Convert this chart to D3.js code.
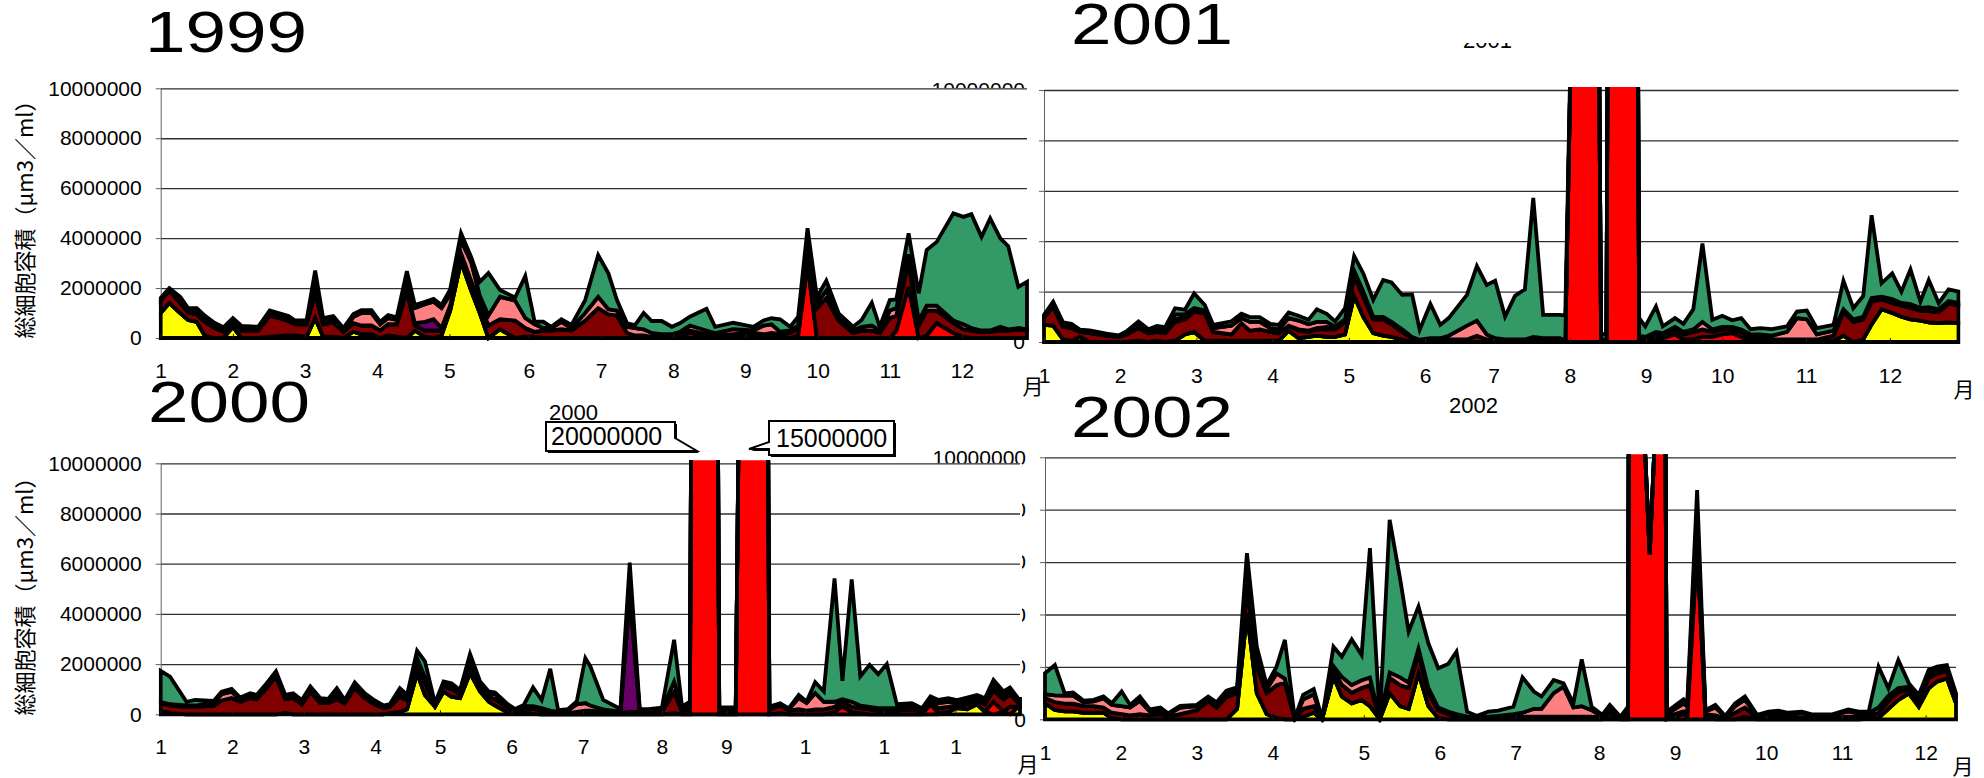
<!DOCTYPE html>
<html>
<head>
<meta charset="utf-8">
<script src="https://cdn.jsdelivr.net/npm/d3@7"></script>
<style>
  body { margin: 0; background: #fff; }
  text { font-family: "Liberation Sans", Arial, sans-serif; }
</style>
</head>
<body>
<script>
// values are in millions of um3/ml, x is the sample position (0..120) along each year

// ---- 1999
var x1999 = [0,1.2,2.7,3.8,5,6.1,7.5,8.7,10,11.2, 13.5,15.1,17.7,18.6,20.2,21.4,22.5,23.9,25.3,26.7,
  27.8,29.2,30.4,31.5,32.7,34.1,35.2,36.6,37.8,38.9, 40.1,41.6,43,44.2,45.4,47,49.1,50.5,51.8,53,
  54.1,55.5,56.9,58.8,60.6,62,63.2,64.6,65.7,66.9, 68,69.4,70.8,71.9,73.3,75.6,76.8,79.3,82.1,83.5,
  84.6,85.8,87.2,88.3,89.6,90.9,92.2,93.9,95.9,97.1, 98.5,99.6,101,101.9,103.6,105,106.1,107.5,109.8,111.2,
  112.3,113.7,114.9,116.3,117.4,118.8,120];
var yellow1999 = [1.0,1.4,1.0,0.72,0.65,0.1,0,0,0.45,0, 0,0.05,0.1,0.1,0.05,0.8,0.05,0.05,0,0.25,
  0.15,0.15,0,0.1,0.05,0,0.3,0.05,0,0.1, 1.1,3.05,1.9,1.0,0,0.35,0,0.05,0.05,0,
  0,0,0,0,0,0,0,0,0,0, 0,0,0,0,0,0,0,0,0,0, 0,0,0,0,0,0,0,0,0,0, 0,0,0,0,0,0,0,0,0,0, 0,0,0,0,0,0,0];
var red1999 = [0,0,0,0,0,0,0,0,0,0, 0,0,0,0,0,0,0,0,0,0, 0,0,0,0,0,0,0,0,0,0, 0,0,0,0,0,0,0,0,0,0,
  0,0,0,0,0,0,0,0,0,0, 0,0,0,0.05,0.2,0.1,0.05,0.05,0.1,0.05, 0.05,0.05,0,0.1,2.95,0,0,0,0,0,
  0,0,0,0.3,2.05,0,0.1,0.6,0.2,0.05, 0,0,0,0,0,0,0];
var maroon1999 = [0.5,0.5,0.4,0.3,0.3,0.55,0.4,0.25,0.2,0.3, 0.3,0.85,0.58,0.45,0.5,1.0,0.5,0.58,0.25,0.35,
  0.35,0.35,0.3,0.45,0.5,1.9,0.2,0.25,0.3,0.2, 0.2,0.35,0.4,0.4,0.5,0.4,0.7,0.35,0.2,0.3,
  0.3,0.35,0.3,0.7,1.2,0.95,0.9,0.2,0.1,0.1, 0.05,0.05,0.05,0.1,0.1,0.05,0.05,0.1,0.1,0.1,
  0.15,0.1,0.2,0.3,0.5,1.2,1.6,0.7,0.2,0.3, 0.3,0.2,0.8,0.6,1.0,0.5,1.0,0.5,0.4,0.3,
  0.3,0.25,0.25,0.3,0.3,0.35,0.3];
var purple1999 = [0,0,0,0,0,0,0,0,0,0, 0,0,0,0,0,0,0,0,0,0, 0,0,0,0,0,0,0.1,0.35,0.45,0.1,
  0,0,0,0,0,0,0,0,0,0, 0,0,0,0,0,0,0,0,0,0, 0,0,0,0,0,0,0,0,0,0, 0,0,0,0,0,0,0,0,0,0,
  0,0,0,0,0,0,0,0,0,0, 0,0,0,0.1,0,0,0];
var pink1999 = [0.05,0.05,0.1,0.08,0.1,0.1,0.1,0.08,0.05,0.08, 0.05,0.1,0.1,0.05,0.05,0.4,0.1,0.1,0.05,0.25,
  0.5,0.5,0.25,0.25,0.18,0.3,0.6,0.7,0.7,0.8, 0.45,0.5,0.75,0.3,0.4,0.9,0.8,0.4,0.3,0.1,
  0.1,0.3,0.1,0.3,0.45,0.2,0.2,0.25,0.3,0.25, 0.15,0.1,0.1,0.1,0.2,0.15,0.1,0.2,0.1,0.35,
  0.35,0.1,0.1,0.1,0.45,0.2,0.3,0.1,0.1,0.15, 0.2,0.1,0.3,0.3,0.3,0.2,0.2,0.2,0.1,0.2,
  0.1,0.05,0.05,0.05,0.05,0.05,0.05];
var green1999 = [0.05,0.05,0.15,0.1,0.15,0.15,0.1,0.1,0.1,0.1, 0.1,0.1,0.1,0.1,0.1,0.5,0.15,0.15,0.1,0.11,
  0.12,0.12,0.1,0.12,0.1,0.48,0.12,0.1,0.12,0.12, 0.2,0.3,0.2,0.55,1.7,0.27,0.12,1.68,0.1,0.25,
  0.05,0.1,0.12,0.52,1.67,1.45,0.42,0.14,0.12,0.65, 0.48,0.53,0.3,0.34,0.35,0.87,0.25,0.26,0.15,0.2,
  0.24,0.5,0.15,0.35,0.5,0.23,0.39,0.19,0.15,0.27, 0.91,0.15,0.42,0.35,0.84,1.09,2.22,2.55,4.29,4.3,
  4.56,3.75,4.49,3.54,3.33,1.65,1.9];

// ---- 2001
var x2001 = [0,1.2,2.5,3.6,4.7,6,8.2,9.8,10.8,12.4, 13.7,14.8,15.9,17.2,18.5,19.7,21.1,22.2,24.6,25.9,
  27,28.3,29.7,30.8,32.1,33.4,34.7,35.8,37.1,38.2, 39.5,40.7,41.9,43.2,44.5,45.6,47,48.3,49.3,50.7,
  52,53.1,55.5,56.8,58.1,59.2,60.5,61.8,63.1,64.2, 65.5,67.7,68.4,69.8,72.6,73.1,73.8,74.1,77.8,78.1,
  78.9,80.3,81.2,82.8,83.9,85.2,86.4,87.7,89,90.3, 91.5,92.7,94,95.5,97.5,98.8,100.1,101.4,103.6,104.9,
  106.2,107.5,108.6,109.9,111.3,112.5,113.7,115,116.1,117.4, 118.7,120];
var yellow2001 = [0.68,0.65,0.1,0.05,0.2,0,0,0,0,0.05, 0,0.05,0,0.05,0.3,0.4,0.05,0.05,0.05,0.05,
  0.05,0.05,0.05,0.05,0.45,0.15,0.2,0.25,0.2,0.2, 0.3,1.83,1.0,0.35,0.25,0.2,0.1,0,0,0,
  0,0,0,0,0,0,0,0,0,0, 0,0,0,0,0,0,0,0,0,0, 0,0,0,0,0,0,0,0,0,0, 0,0,0,0,0,0,0,0,0.05,0.25,
  0,0.1,0.7,1.3,1.15,1.0,0.9,0.85,0.78,0.75, 0.78,0.75];
var red2001 = [0,0,0,0,0,0,0,0,0,0, 0,0,0,0,0,0,0,0,0,0, 0,0,0,0,0,0,0,0,0,0, 0,0,0,0,0,0,0,0,0,0,
  0,0,0,0,0,0,0,0,0,0, 0,0,0,22,22,0,0,22,22,0.1, 0.05,0.1,0.15,0.3,0.1,0.1,0.2,0.2,0.3,0.35,
  0.2,0.05,0.05,0,0,0,0,0,0,0, 0,0,0,0,0,0,0,0,0,0, 0,0];
var maroon2001 = [0.3,0.75,0.5,0.5,0.2,0.35,0.25,0.2,0.3,0.5, 0.35,0.35,0.35,0.75,0.6,0.8,1.1,0.35,0.25,0.7,
  0.4,0.45,0.35,0.3,0.2,0.3,0.2,0.25,0.3,0.3, 0.5,0.8,0.8,0.55,0.65,0.5,0.3,0.15,0.05,0.1,
  0.1,0.1,0.1,0.25,0.1,0.05,0.05,0.05,0.05,0.1, 0.1,0.1,0.05,0,0,0.1,0.1,0,0,0.1,
  0.1,0.2,0.1,0.2,0.2,0.3,0.3,0.2,0.2,0.15, 0.2,0.15,0.1,0.1,0.1,0.1,0.1,0.1,0.2,0.95,
  0.8,0.8,0.9,0.4,0.4,0.45,0.45,0.4,0.45,0.45, 0.75,0.7];
var purple2001 = [0,0,0,0,0,0,0,0,0,0, 0,0,0,0.1,0.1,0.05,0,0,0,0, 0,0,0,0,0,0.05,0.05,0.05,0.1,0,
  0,0,0,0,0,0,0,0,0,0, 0,0,0,0,0,0,0,0,0,0, 0,0,0,0,0,0,0,0,0,0, 0,0,0,0,0,0,0,0,0,0,
  0,0,0,0,0,0,0,0,0,0, 0,0,0,0,0,0,0,0,0,0, 0,0];
var pink2001 = [0.05,0.1,0.08,0.07,0.04,0.05,0.04,0.03,0.06,0.1, 0.1,0.15,0.15,0.2,0.1,0.1,0.1,0.15,0.35,0.2,
  0.35,0.3,0.15,0.15,0.3,0.35,0.25,0.25,0.2,0.1, 0.1,0.2,0.2,0.1,0.1,0.1,0.1,0.05,0.04,0.05,
  0.05,0.15,0.55,0.6,0.2,0.1,0.05,0.05,0.05,0.1, 0.05,0.05,0,0,0,0.2,0.2,0,0,0.05,
  0.05,0.1,0.1,0.1,0.1,0.1,0.3,0.1,0.1,0.1, 0.1,0.1,0.15,0.15,0.3,0.85,0.8,0.2,0.2,0.1,
  0.1,0.1,0.15,0.1,0.15,0.1,0.15,0.1,0.15,0.1, 0.1,0.1];
var green2001 = [0.05,0.1,0.1,0.1,0.05,0.06,0.04,0.03,0.06,0.17, 0.06,0.09,0.09,0.24,0.18,0.58,0.22,0.13,0.17,0.17,
  0.19,0.19,0.17,0.18,0.22,0.19,0.18,0.5,0.32,0.22, 0.44,0.58,0.72,0.67,1.46,1.56,1.37,1.69,0.4,1.36,
  0.53,0.7,1.22,2.16,1.96,2.28,0.91,1.73,1.99,5.52, 0.93,0.93,1.0,0,0,0,0,0,0,0.7,
  0.42,1.01,0.27,0.35,0.32,0.8,3.11,0.38,0.44,0.26, 0.45,0.21,0.25,0.26,0.22,0.26,0.35,0.25,0.23,1.13,
  0.44,0.83,3.28,0.53,1.02,0.45,1.38,0.25,1.08,0.24, 0.46,0.45];

// ---- 2000
var x2000 = [0,1.3,3.6,4.8,7.4,8.5,9.9,11.1,12.5,13.4, 14.8,16.1,17.4,18.5,19.7,20.9,22.3,23.4,24.6,25.7,
  27.1,28.5,29.9,31.1,32,33.4,34.4,35.8,36.9,38.3, 39.5,40.6,41.8,43.2,44.6,45.8,46.7,48.3,49.5,50.7,
  52,53.2,54.4,55.5,56.9,58.1,59.3,60,61.8,64.2, 65.5,66.9,68.1,70,71.7,72.8,73.9,74.3,77.6,78,
  80.3,81.2,84.6,85,86.5,87.7,89.1,90.2,91.4,92.6, 94.1,95.2,96.5,97.7,99,100.2,101.4,102.8,104.9,106.3,
  107.5,108.6,110,111.2,112.6,114,115.1,116.3,117.7,118.6, 119.8,120];
var yellow2000 = [0.15,0.05,0,0,0,0,0,0,0,0, 0,0,0.05,0,0,0,0,0,0,0, 0,0,0,0,0.05,0.1,0.2,1.64,0.77,0.3,
  0.91,0.7,0.64,1.64,0.91,0.51,0.35,0.1,0.02,0.1, 0.02,0,0,0,0,0,0,0,0,0, 0,0,0,0,0,0,0,0,0,0,
  0,0,0,0,0,0,0,0,0,0, 0,0,0,0,0,0,0,0,0,0, 0,0,0.1,0.25,0.2,0.4,0.1,0,0.1,0, 0.3,0.3];
var red2000 = [0,0,0,0,0,0,0,0,0,0, 0,0,0,0,0,0,0,0,0,0, 0,0,0,0,0,0,0,0,0,0, 0,0,0,0,0,0,0,0,0,0,
  0,0,0,0,0,0,0,0,0,0, 0,0,0,0,0.05,0,0,25,25,0, 0,25,25,0,0.05,0,0,0,0,0,
  0.1,0.3,0.1,0.05,0,0,0,0,0,0, 0.4,0.05,0,0,0,0,0,0.5,0,0.3, 0,0];
var maroon2000 = [0.3,0.3,0.3,0.3,0.35,0.55,0.65,0.5,0.65,0.6, 1.05,1.5,0.55,0.65,0.4,0.9,0.45,0.45,0.6,0.45,
  1.05,0.65,0.4,0.25,0.25,0.6,0.35,0.4,0.5,0.05, 0.2,0.3,0.15,0.4,0.2,0.2,0.25,0.2,0.1,0.15,
  0.2,0.15,0.1,0.05,0.05,0.1,0.15,0.15,0.1,0.05, 0.1,0.1,0.1,0.1,0.85,0.1,0.2,0,0,0.1,
  0.1,0,0,0.2,0.3,0.15,0.2,0.15,0.2,0.2, 0.2,0.2,0.2,0.2,0.2,0.15,0.15,0.15,0.2,0.1,
  0.1,0.2,0.2,0.1,0.2,0.15,0.3,0.45,0.5,0.5, 0.15,0.15];
var purple2000 = [0,0,0,0,0,0,0,0,0,0, 0,0,0,0,0,0,0,0,0.2,0, 0,0,0,0,0,0,0,0,0,0, 0,0,0,0,0,0,0,0,0,0,
  0,0,0,0,0,0,0,0,0,0, 4.6,0,0,0,0,0,0,0,0,0, 0,0,0,0,0,0,0,0,0,0, 0,0,0,0,0,0,0,0,0,0,
  0,0,0,0,0,0,0,0,0,0, 0,0];
var pink2000 = [0.05,0.05,0.05,0.05,0.1,0.25,0.25,0.1,0.1,0.1, 0.1,0.1,0.1,0.1,0.1,0.1,0.1,0.08,0.1,0.06,
  0.1,0.1,0.08,0.05,0.05,0.2,0.1,0.2,0.2,0.05, 0.1,0.15,0.1,0.2,0.1,0.12,0.2,0.08,0.05,0.07,
  0.1,0.1,0.05,0.05,0.1,0.3,0.3,0.2,0.1,0.05, 0.4,0.05,0.05,0.1,0.4,0.1,0.15,0,0,0.1,
  0.1,0,0,0.05,0.05,0.05,0.45,0.3,0.65,0.3, 0.2,0.1,0.2,0.1,0.1,0.1,0.1,0.1,0.15,0.1,
  0.1,0.2,0.2,0.1,0.15,0.1,0.1,0.2,0.15,0.1, 0.1,0.1];
var green2000 = [1.23,1.1,0.15,0.22,0.08,0.1,0.11,0.07,0.09,0.07, 0.09,0.11,0.07,0.09,0.07,0.11,0.09,0.08,0.14,0.06,
  0.12,0.09,0.07,0.05,0.06,0.14,0.12,0.29,0.64,0.04, 0.1,0.09,0.08,0.16,0.1,0.08,0.07,0.06,0.04,0.05,
  0.75,0.32,1.66,0.07,0.06,0.11,1.79,1.56,0.37,0.11, 0.94,0.06,0.06,0.07,1.67,0.11,0.16,0,0,0.07,
  0.07,0,0,0.06,0.04,0.04,0.12,0.06,0.43,0.41, 4.91,0.73,4.87,1.16,1.67,1.35,1.75,0.15,0.09,0.04,
  0.11,0.12,0.14,0.12,0.12,0.12,0.14,0.22,0.16,0.17, 0.06,0.06];

// ---- 2002
var x2002 = [0,1.3,2.6,3.7,5.1,6.4,7.7,8.8,10.1,11.2, 12.5,13.8,15.2,16.2,17.8,20,21.5,22.6,23.9,25.3,
  26.6,27.9,29.2,30.5,31.6,32.9,34,35.4,36.5,38, 39.1,40.4,41.7,42.8,44.1,45.4,46.8,47.9,49.2,50.5,
  51.8,53.1,54.2,55.6,56.9,58.4,59.7,61.7,62.9,64.4, 65.4,67,68.3,69.6,70.7,72,73.4,74.4,75.8,76.8,
  77,78.6,79,79.65,80.3,80.6,81.5,81.9,84.1,84.6, 85.9,87,88.3,89.6,90.9,92.2,93.8,95.3,96.6,97.9,
  99.7,101,103.7,105.8,107.2,108.5,109.8,111.1,112.4,113.8, 115.1,116.4,117.5,118.8,120];
var yellow2002 = [0.61,0.36,0.3,0.3,0.25,0.25,0.25,0.05,0,0, 0,0,0,0,0,0,0,0,0,0.4,
  4.05,1.0,0.2,0.05,0,0,0.1,0.25,0,1.63, 0.87,0.61,0.74,0.5,0,0.99,0.5,0.4,1.76,0.5,
  0.05,0,0,0,0,0,0,0,0,0, 0,0,0,0,0,0,0,0,0,0, 0,0,0,0,0,0,0,0,0,0, 0,0,0,0,0,0,0,0,0,0,
  0,0,0,0,0,0.02,0.05,0.4,0.74,0.99, 0.48,1.18,1.44,1.56,0.61];
var red2002 = [0,0,0,0,0,0,0,0,0,0, 0,0,0,0,0,0,0,0,0,0, 0,0,0,0,0,0,0,0,0,0, 0,0,0,0,0,0,0,0,0,0,
  0,0,0,0,0,0,0,0,0,0, 0,0,0,0,0,0,0,0.05,0,0, 25,25,10.5,6.3,10.5,25,25,0,0.2,0.1,
  6.5,0.1,0,0,0,0.1,0,0,0,0, 0,0,0,0,0,0,0,0,0,0, 0,0,0,0,0];
var maroon2002 = [0.2,0.3,0.3,0.3,0.25,0.25,0.2,0.2,0.2,0.15, 0.2,0.15,0.2,0.1,0.2,0.35,0.7,0.45,0.85,0.6,
  1.0,1.0,0.8,1.25,1.4,0.02,0.3,0.25,0.02,0.25, 0.45,0.4,0.45,0.8,0.02,0.6,0.8,0.8,0.74,0.5,
  0.3,0.2,0.1,0.05,0.03,0.05,0.05,0.1,0.1,0.1, 0.1,0.1,0.1,0.1,0.1,0.1,0.05,0.2,0.05,0.1,
  0,0,0,0,0,0,0,0.1,0.1,0.2, 0.8,0.1,0.15,0.05,0.25,0.35,0.05,0.05,0.05,0.05,
  0.05,0.05,0.05,0.1,0.1,0.1,0.2,0.3,0.3,0.15, 0.25,0.4,0.3,0.3,0.2];
var purple2002 = [0,0,0,0,0,0,0,0,0,0, 0,0,0.1,0,0,0,0,0,0,0, 0,0,0,0,0,0,0,0,0,0, 0,0,0,0,0,0,0,0,0,0,
  0,0,0,0,0,0,0,0,0,0, 0,0,0,0,0,0,0,0,0,0, 0,0,0,0,0,0,0,0,0,0, 0,0,0,0,0,0,0,0,0,0,
  0,0,0,0,0,0,0,0,0,0, 0,0,0,0,0];
var pink2002 = [0.15,0.25,0.3,0.3,0.15,0.18,0.35,0.3,0.3,0.3, 0.5,0.15,0.1,0.08,0.25,0.15,0.1,0.1,0.15,0.12,
  0.5,0.4,0.15,0.45,0.15,0.01,0.35,0.45,0.01,0.15, 0.3,0.3,0.3,0.3,0.01,0.2,0.3,0.2,0.2,0.2,
  0.1,0.1,0.1,0.05,0.02,0.05,0.08,0.1,0.15,0.3, 0.3,0.9,1.15,0.35,0.4,0.25,0.05,0.2,0.03,0.2,
  0,0,0,0,0,0,0,0.1,0.3,0.2, 0.6,0.1,0.3,0.05,0.25,0.3,0.08,0.15,0.15,0.12,
  0.18,0.1,0.1,0.2,0.13,0.12,0.2,0.2,0.15,0.1, 0.1,0.15,0.15,0.1,0.1];
var green2002 = [0.8,1.16,0.09,0.12,0.06,0.06,0.07,0.06,0.56,0.1, 0.17,0.08,0.05,0.05,0.06,0.05,0.07,0.1,0.09,0.1,
  0.79,0.37,0.16,0.26,1.48,0.01,0.18,0.2,0.01,0.74, 0.77,1.74,0.97,4.93,0.01,5.82,3.72,1.95,1.6,1.7,
  1.5,1.81,2.38,0.19,0.08,0.19,0.2,0.28,1.35,0.66, 0.47,0.5,0.12,0.16,1.79,0.13,0.07,0.1,0.02,0.18,
  0,0,0,0,0,0,0,0.09,0.16,0.1, 0.85,0.05,0.1,0.03,0.11,0.12,0.04,0.09,0.13,0.08,
  0.06,0.04,0.04,0.08,0.06,0.05,1.56,0.28,1.07,0.13, 0.1,0.15,0.12,0.11,0.08];

// month labels and the sample position where each sits
var months = ['1','2','3','4','5','6','7','8','9','10','11','12'];
var months2000 = ['1','2','3','4','5','6','7','8','9','1','1','1'];
var tick1999 = [0,10,20,30,40,51,61,71,81,91,101,111];
var tick2001 = [0,10,20,30,40,50,59,69,79,89,100,111];
var tick2000 = [0,10,20,30,39,49,59,70,79,90,101,111];
var tick2002 = [0,10,20,30,42,52,62,73,83,95,105,116];
var yTicks = [0,2,4,6,8,10];

var keys = ['yellow','red','maroon','purple','pink','green'];
var colors = {yellow:'#ffff00', red:'#ff0000', maroon:'#800000', purple:'#660066', pink:'#ff8080', green:'#339966'};

var svg = d3.select('body').append('svg').attr('width', 1984).attr('height', 778);
var fmt = d3.format('d');

function drawPanel(p) {
  var x = d3.scaleLinear().domain([0, 120]).range([p.left, p.right]);
  var y = d3.scaleLinear().domain([0, 10]).range([p.bottom, p.top]);
  var g = svg.append('g');

  // white plot background, hides labels of the neighbour chart that run under it
  if (p.cover) {
    g.append('rect').attr('x', p.left).attr('y', p.top)
      .attr('width', p.right - p.left + 2).attr('height', p.bottom - p.top).attr('fill', '#fff');
  }

  // gridlines
  g.append('g').attr('transform', 'translate(' + p.left + ',0)')
    .call(d3.axisLeft(y).tickValues([2,4,6,8,10]).tickSize(-(p.right - p.left)).tickFormat(''))
    .call(function(s){ s.select('.domain').remove(); })
    .selectAll('line').attr('stroke', '#303030').attr('stroke-width', 1.3);

  // y axis
  var ya = g.append('g').attr('transform', 'translate(' + p.left + ',0)')
    .call(d3.axisLeft(y).tickValues(yTicks).tickSize(5).tickSizeOuter(0).tickPadding(14)
      .tickFormat(function(d){ return fmt(d * 1000000); }));
  ya.select('.domain').attr('stroke', '#606060');
  ya.selectAll('line').attr('stroke', '#606060');
  ya.selectAll('text').attr('font-size', 21).attr('fill', '#000')
    .attr('font-family', '"Liberation Sans", Arial, sans-serif');

  // stacked areas
  var rows = p.xs.map(function(v, i){
    return {x: v, yellow: p.s.yellow[i], red: p.s.red[i], maroon: p.s.maroon[i],
            purple: p.s.purple[i], pink: p.s.pink[i], green: p.s.green[i]};
  });
  var stacked = d3.stack().keys(keys)(rows);
  var area = d3.area()
    .x(function(d){ return x(d.data.x); })
    .y0(function(d){ return y(d[0]); })
    .y1(function(d){ return y(d[1]); });

  var clipId = 'clip' + p.name;
  svg.append('clipPath').attr('id', clipId).append('rect')
    .attr('x', p.left - 2).attr('y', p.top - 3)
    .attr('width', p.right - p.left + 4).attr('height', p.bottom - p.top + 6);

  g.append('g').attr('clip-path', 'url(#' + clipId + ')')
    .selectAll('path').data(stacked).enter().append('path')
    .attr('d', area)
    .attr('fill', function(d){ return colors[d.key]; })
    .attr('stroke', '#000').attr('stroke-width', 3.8)
    .attr('stroke-linejoin', 'miter').attr('stroke-miterlimit', 4);

  // x axis
  var xa = g.append('g').attr('transform', 'translate(0,' + p.bottom + ')')
    .call(d3.axisBottom(x).tickValues(p.ticks).tickSizeInner(-4).tickSizeOuter(0)
      .tickFormat(function(d, i){ return p.labels[i]; }));
  xa.select('.domain').attr('stroke', '#000').attr('stroke-width', 1.5);
  xa.selectAll('line').attr('stroke', '#202020');
  xa.selectAll('text').attr('y', p.labelBase - p.bottom).attr('dy', 0)
    .attr('font-size', 21).attr('fill', '#000')
    .attr('font-family', '"Liberation Sans", Arial, sans-serif');

  // year title, a wide face
  svg.append('text').attr('transform', 'translate(' + p.titleX + ',' + p.titleY + ') scale(1.255,1)')
    .attr('font-size', 58).attr('fill', '#000').text(p.name);

  // month unit
  svg.append('text').attr('x', p.unitX).attr('y', p.unitY).attr('text-anchor', 'middle')
    .attr('font-size', 21).style('font-family', '"Noto Sans CJK JP", sans-serif').text('月');

  if (p.yTitle) {
    svg.append('text')
      .attr('transform', 'translate(33,' + p.yTitle + ') rotate(-90)')
      .attr('text-anchor', 'middle').attr('font-size', 22)
      .style('font-family', '"Noto Sans CJK JP", sans-serif')
      .text('総細胞容積（μm3／ml）');
  }
}

// right-hand charts first, the left ones overlap their axis labels
drawPanel({name: '2001', xs: x2001,
  s: {yellow: yellow2001, red: red2001, maroon: maroon2001, purple: purple2001, pink: pink2001, green: green2001},
  left: 1044, right: 1958.5, top: 90, bottom: 342, ticks: tick2001, labels: months,
  labelBase: 383, titleX: 1071, titleY: 44, unitX: 1964, unitY: 397});
drawPanel({name: '2002', xs: x2002,
  s: {yellow: yellow2002, red: red2002, maroon: maroon2002, purple: purple2002, pink: pink2002, green: green2002},
  left: 1045, right: 1956, top: 457.3, bottom: 719.3, ticks: tick2002, labels: months,
  labelBase: 760, titleX: 1071, titleY: 437, unitX: 1963, unitY: 774});
drawPanel({name: '1999', xs: x1999, cover: true,
  s: {yellow: yellow1999, red: red1999, maroon: maroon1999, purple: purple1999, pink: pink1999, green: green1999},
  left: 160.7, right: 1027, top: 88.3, bottom: 338, ticks: tick1999, labels: months,
  labelBase: 378, titleX: 145, titleY: 52, unitX: 1033, unitY: 394, yTitle: 214});
drawPanel({name: '2000', xs: x2000, cover: true,
  s: {yellow: yellow2000, red: red2000, maroon: maroon2000, purple: purple2000, pink: pink2000, green: green2000},
  left: 160.7, right: 1020, top: 463.3, bottom: 714.3, ticks: tick2000, labels: months2000,
  labelBase: 754, titleX: 148, titleY: 422, unitX: 1028, unitY: 772, yTitle: 591});

// small stray labels
svg.append('text').attr('x', 549).attr('y', 420).attr('font-size', 22).text('2000');
svg.append('text').attr('x', 1449).attr('y', 413).attr('font-size', 22).text('2002');
svg.append('clipPath').attr('id', 'clipStray').append('rect')
  .attr('x', 1440).attr('y', 43).attr('width', 100).attr('height', 10);
svg.append('text').attr('x', 1463).attr('y', 47.5).attr('font-size', 22)
  .attr('clip-path', 'url(#clipStray)').text('2001');

// callouts for the off-scale peaks of 2000
function callout(path, tx, ty, label) {
  svg.append('path').attr('d', path).attr('fill', '#000').attr('transform', 'translate(2,2)');
  svg.append('path').attr('d', path).attr('fill', '#fff').attr('stroke', '#000').attr('stroke-width', 2);
  svg.append('text').attr('x', tx).attr('y', ty).attr('font-size', 25).text(label);
}
callout('M546,422 H675 V438 L697,451 H546 Z', 551, 445, '20000000');
callout('M769,421 H894 V455 H769 V449 L749,449 L769,442 Z', 776, 447, '15000000');
</script>
</body>
</html>
